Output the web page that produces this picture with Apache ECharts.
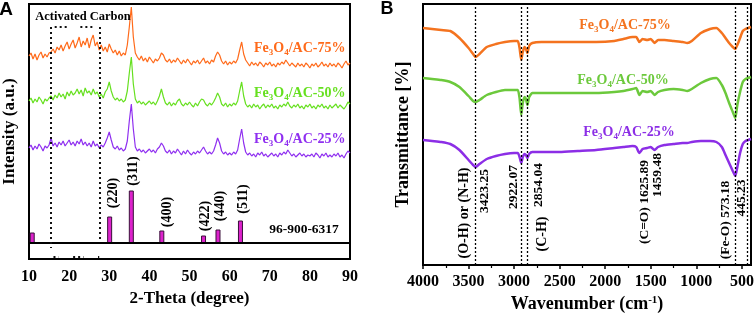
<!DOCTYPE html>
<html lang="en">
<head>
    <meta charset="UTF-8">
    <title>XRD and FTIR</title>
    <script src="https://cdn.jsdelivr.net/npm/echarts@6.0.0/dist/echarts.min.js"></script>
    <style>
        html, body { margin: 0; padding: 0; background: #fff; }
    </style>
</head>
<body>
    <div id="main" style="width: 754px;height:313px;"></div>
    <script type="text/javascript">
        // ---- XRD (panel A), sampled every 0.5 degree from 10 to 90, arbitrary intensity units ----
        const tthStart = 10, tthStep = 0.5;
        const xrd75 = [
            203,206,200,205,199,204,207,201,205,202,  // 10.0-14.5
            206,207,210,206,212,209,214,208,213,217,  // 15.0-19.5
            210,215,219,211,216,222,212,218,214,221,  // 20.0-24.5
            211,219,224,213,217,209,214,208,212,207,  // 25.0-29.5
            215,210,206,209,204,208,203,206,204,214,  // 30.0-34.5
            232,252,222,206,202,199,203,198,201,197,  // 35.0-39.5
            202,199,196,200,198,201,206,204,199,197,  // 40.0-44.5
            200,196,199,197,201,198,195,199,196,200,  // 45.0-49.5
            197,194,198,196,199,195,198,201,196,198,  // 50.0-54.5
            195,199,197,203,207,204,198,195,198,194,  // 55.0-59.5
            197,195,198,196,200,209,217,205,199,196,  // 60.0-64.5
            193,197,194,196,193,197,195,192,196,194,  // 65.0-69.5
            197,193,195,192,196,194,197,195,199,196,  // 70.0-74.5
            193,196,194,192,196,193,195,192,196,194,  // 75.0-79.5
            191,195,193,196,192,194,197,193,195,192,  // 80.0-84.5
            196,193,195,192,196,194,191,195,198,194,  // 85.0-89.5
            196
        ];
        const xrd50 = [
            158,161,156,160,157,162,159,155,160,158,
            161,163,159,164,161,166,162,165,160,167,
            163,168,164,166,170,165,169,163,171,166,
            168,164,170,165,167,162,165,161,167,170,
            177,168,162,159,161,158,160,157,159,168,
            186,202,175,160,156,158,155,157,154,156,
            158,155,157,154,158,163,170,162,156,154,
            157,153,156,154,158,160,155,153,156,154,
            157,154,152,156,153,157,160,159,155,153,
            156,154,157,161,166,162,155,153,156,152,
            155,153,156,154,158,168,177,163,155,152,
            154,151,155,152,154,150,153,155,151,154,
            152,155,151,153,150,154,152,155,153,157,
            153,151,154,152,155,151,153,150,154,152,
            155,151,153,150,154,152,155,151,153,150,
            154,151,153,155,151,154,152,150,153,157,
            155
        ];
        const xrd25 = [
            111,114,109,113,110,115,112,108,113,111,
            114,121,113,116,112,117,114,118,113,116,
            119,114,117,113,118,115,120,114,117,113,
            116,112,118,113,115,111,114,112,116,121,
            127,119,112,110,113,109,111,108,110,118,
            138,155,130,112,108,110,107,109,106,108,
            110,107,109,106,110,112,116,113,108,106,
            109,105,108,106,110,107,104,108,105,109,
            106,104,107,105,108,106,109,112,108,105,
            107,105,108,114,121,116,108,105,107,104,
            106,104,107,105,109,120,130,116,107,104,
            106,103,105,102,106,104,107,103,105,102,
            104,106,103,105,102,106,104,107,105,109,
            106,103,105,102,104,106,103,105,102,104,
            103,105,102,106,104,101,105,103,106,102,
            104,102,105,103,106,102,104,101,105,108,
            106
        ];
        // reference card 96-900-6317
        const refAngles = [10.8, 30.1, 35.5, 43.1, 53.5, 57.1, 62.7];
        const refHeights = [26, 42, 68, 28, 23, 29, 38];
        const refBase = 16;
        const hklLabels = ['(220)', '(311)', '(400)', '(422)', '(440)', '(511)'];
        const tthTicks = [10, 20, 30, 40, 50, 60, 70, 80, 90];

        // ---- FTIR (panel B) ----
        const wavenumbers = [4000,3900,3800,3700,3600,3500,3450,3423,3380,3300,3200,3100,3000,2960,2940,2922,2905,2885,2870,2854,2835,2800,2700,2500,2300,2100,1900,1800,1700,1660,1625,1590,1540,1500,1459,1420,1350,1250,1150,1100,1050,950,850,780,720,680,640,600,573,550,520,490,460,430,400];
        const ftir75 = [237,236,235,234,227,217,211,208,211,218,221,223,224,224,217,205,213,218,216,212,219,222,223,223,223,223,224,226,228,228,223,226,225,226,222,225,225,224,223,222,224,232,236,237,232,227,222,218,216,220,227,234,236,237,238];
        const ftir50 = [187,186,185,183,178,169,164,163,165,170,173,175,175,175,167,150,162,168,166,160,168,172,172,172,172,172,173,174,176,177,170,174,173,174,170,173,175,176,175,174,176,182,186,187,180,172,162,153,147,160,173,183,186,187,188];
        const ftir25 = [125,124,123,121,115,105,100,98,101,106,109,111,112,112,108,102,108,111,110,107,111,113,113,113,114,115,117,118,119,118,112,116,117,118,115,118,120,121,122,122,123,124,124,123,118,110,102,94,89,98,112,121,124,125,126];
        const ftirPeaks = [3423.25, 2922.07, 2854.04, 573.18, 445.23];
        const wnTicks = [4000, 3500, 3000, 2500, 2000, 1500, 1000, 500];
        const wnMinorTicks = [3750, 3250, 2750, 2250, 1750, 1250, 750];

        const serif = '"Liberation Serif", "Times New Roman", serif';
        const colA = { o: '#FF6A1A', g: '#66E01F', p: '#8F2FF0' };
        const colB = { o: '#F4731F', g: '#6CC93C', p: '#8C2EE6' };

        let myChart = echarts.init(document.getElementById('main'));

        function xrdData(arr) {
            return arr.map((v, i) => [tthStart + i * tthStep, v]);
        }
        function ftirData(arr) {
            return arr.map((v, i) => [wavenumbers[i], v]);
        }

        // text helper for graphic labels
        function txt(x, y, text, size, color, rot, align) {
            return {
                type: 'text', x: x, y: y, rotation: rot || 0, silent: true, z: 50,
                style: {
                    text: text, fill: color || '#000',
                    fontSize: size, fontWeight: 'bold', fontFamily: serif,
                    align: align || 'center', verticalAlign: 'middle'
                }
            };
        }
        function feLabel(x, y, pct, color, size, align) {
            const sub = Math.round(size * 0.65);
            return {
                type: 'text', x: x, y: y, silent: true, z: 50,
                style: {
                    text: '{m|Fe}{s|3}{m|O}{s|4}{m|/AC-' + pct + '%}',
                    fill: color, align: align, verticalAlign: 'middle',
                    rich: {
                        m: { fontSize: size, fontWeight: 'bold', fontFamily: serif, fill: color, lineHeight: size + 5, verticalAlign: 'middle' },
                        s: { fontSize: sub, fontWeight: 'bold', fontFamily: serif, fill: color, lineHeight: size + 5, verticalAlign: 'bottom' }
                    }
                }
            };
        }

        const R = Math.PI / 2;
        const axisFont = { fontSize: 16, fontWeight: 'bold', fontFamily: serif, color: '#000', formatter: v => String(v) };
        const dotted = { color: '#111', width: 2, type: [2, 3] };

        let options = {
            animation: false,
            grid: [
                { left: 29, top: 4, right: 404, bottom: 54, show: true, borderColor: '#000', borderWidth: 2, outerBoundsMode: 'none', containLabel: false },
                { left: 423, top: 4, right: 3, bottom: 48, show: true, borderColor: '#000', borderWidth: 2, outerBoundsMode: 'none', containLabel: false }
            ],
            xAxis: [
                {
                    gridIndex: 0, type: 'value', min: 10, max: 90, interval: 10,
                    axisLine: { lineStyle: { color: '#000', width: 2 } },
                    axisTick: { show: false }, splitLine: { show: false },
                    axisLabel: Object.assign({ margin: 10, customValues: tthTicks }, axisFont),
                    name: '2-Theta (degree)', nameLocation: 'middle', nameGap: 29,
                    nameTextStyle: { fontSize: 17, fontWeight: 'bold', fontFamily: serif, color: '#000' }
                },
                {
                    gridIndex: 1, type: 'value', min: 400, max: 4000, inverse: true,
                    axisLine: { lineStyle: { color: '#000', width: 2 } },
                    axisTick: { show: true, inside: false, length: 4, lineStyle: { width: 1.5, color: '#000' }, customValues: wnTicks },
                    splitLine: { show: false },
                    axisLabel: Object.assign({ margin: 9, customValues: wnTicks }, axisFont),
                    name: 'Wavenumber (cm{sup|-1})', nameLocation: 'middle', nameGap: 28,
                    nameTextStyle: {
                        fontSize: 18, fontWeight: 'bold', fontFamily: serif, color: '#000',
                        rich: { sup: { fontSize: 11, fontWeight: 'bold', fontFamily: serif, color: '#000', verticalAlign: 'top' } }
                    }
                },
                {
                    gridIndex: 1, type: 'value', min: 400, max: 4000, inverse: true, position: 'bottom',
                    axisLine: { show: false }, axisLabel: { show: false }, splitLine: { show: false },
                    axisTick: { show: true, length: 3, lineStyle: { width: 1.2, color: '#000' }, customValues: wnMinorTicks }
                }
            ],
            yAxis: [
                {
                    gridIndex: 0, type: 'value', min: 0, max: 255,
                    axisLine: { show: true, lineStyle: { color: '#000', width: 2 } },
                    axisTick: { show: false }, axisLabel: { show: false }, splitLine: { show: false },
                    name: 'Intensity (a.u.)', nameLocation: 'middle', nameGap: 11,
                    nameTextStyle: { fontSize: 17, fontWeight: 'bold', fontFamily: serif, color: '#000' }
                },
                {
                    gridIndex: 1, type: 'value', min: 0, max: 261,
                    axisLine: { show: true, lineStyle: { color: '#000', width: 2 } },
                    axisTick: { show: false }, axisLabel: { show: false }, splitLine: { show: false },
                    name: 'Transmittance [%]', nameLocation: 'middle', nameGap: 11,
                    nameTextStyle: { fontSize: 18, fontWeight: 'bold', fontFamily: serif, color: '#000' }
                }
            ],
            series: [
                // panel A
                { type: 'line', xAxisIndex: 0, yAxisIndex: 0, data: xrdData(xrd75), showSymbol: false, lineStyle: { color: colA.o, width: 1.2 } },
                { type: 'line', xAxisIndex: 0, yAxisIndex: 0, data: xrdData(xrd50), showSymbol: false, lineStyle: { color: colA.g, width: 1.2 } },
                { type: 'line', xAxisIndex: 0, yAxisIndex: 0, data: xrdData(xrd25), showSymbol: false, lineStyle: { color: colA.p, width: 1.2 } },
                {
                    type: 'custom', xAxisIndex: 0, yAxisIndex: 0,
                    data: refAngles.map((a, i) => [a, refHeights[i]]),
                    renderItem: function (params, api) {
                        const p0 = api.coord([api.value(0), refBase]);
                        const p1 = api.coord([api.value(0), api.value(1)]);
                        return {
                            type: 'rect',
                            shape: { x: p0[0] - 2, y: p1[1], width: 4, height: p0[1] - p1[1] },
                            style: { fill: '#DD22CC', stroke: '#3a103a', lineWidth: 1 }
                        };
                    },
                    markLine: {
                        silent: true, symbol: 'none', label: { show: false },
                        lineStyle: { color: '#000', width: 2, type: 'solid' },
                        data: [{ yAxis: refBase }]
                    }
                },
                {
                    // dotted box round the activated carbon hump
                    type: 'line', xAxisIndex: 0, yAxisIndex: 0, data: [],
                    markLine: {
                        silent: true, symbol: 'none', label: { show: false }, lineStyle: dotted,
                        data: [
                            [{ coord: [15.5, 232] }, { coord: [15.5, 11] }],
                            [{ coord: [27.6, 232] }, { coord: [27.6, 17] }],
                            [{ coord: [16.4, 232] }, { coord: [19.6, 232] }],
                            [{ coord: [22.8, 232] }, { coord: [26.1, 232] }],
                            [{ coord: [16.1, 2] }, { coord: [17.4, 2] }],
                            [{ coord: [21.0, 2] }, { coord: [23.6, 2] }],
                            [{ coord: [27.2, 2] }, { coord: [27.5, 2] }]
                        ]
                    }
                },
                // panel B
                { type: 'line', xAxisIndex: 1, yAxisIndex: 1, data: ftirData(ftir75), showSymbol: false, smooth: 0.2, lineStyle: { color: colB.o, width: 2.5 } },
                { type: 'line', xAxisIndex: 1, yAxisIndex: 1, data: ftirData(ftir50), showSymbol: false, smooth: 0.2, lineStyle: { color: colB.g, width: 2.5 } },
                {
                    type: 'line', xAxisIndex: 1, yAxisIndex: 1, data: ftirData(ftir25), showSymbol: false, smooth: 0.2, lineStyle: { color: colB.p, width: 2.5 },
                    markLine: {
                        silent: true, symbol: 'none', label: { show: false },
                        lineStyle: { color: '#000', width: 1.3, type: [2, 2] },
                        data: ftirPeaks.map(p => ({ xAxis: p }))
                    }
                }
            ],
            graphic: [
                { type: 'text', x: 6, y: 10, silent: true, style: { text: 'A', fontSize: 19, fontWeight: 'bold', fontFamily: '"Liberation Sans", Arial, sans-serif', fill: '#000', align: 'center', verticalAlign: 'middle' } },
                { type: 'text', x: 387, y: 9, silent: true, style: { text: 'B', fontSize: 18, fontWeight: 'bold', fontFamily: '"Liberation Sans", Arial, sans-serif', fill: '#000', align: 'center', verticalAlign: 'middle' } },
                txt(83, 17, 'Activated Carbon', 12.5),
                txt(304, 230, '96-900-6317', 13.5),
                txt(113, 193, hklLabels[0], 14, '#000', R),
                txt(133, 171, hklLabels[1], 14, '#000', R),
                txt(167, 212, hklLabels[2], 14, '#000', R),
                txt(205, 216, hklLabels[3], 14, '#000', R),
                txt(220, 206, hklLabels[4], 14, '#000', R),
                txt(243, 199, hklLabels[5], 14, '#000', R),
                feLabel(254, 48, 75, colA.o, 14, 'left'),
                feLabel(254, 93, 50, colA.g, 14, 'left'),
                feLabel(254, 139, 25, colA.p, 14, 'left'),
                feLabel(625, 25, 75, colB.o, 14, 'center'),
                feLabel(623, 80, 50, colB.g, 14, 'center'),
                feLabel(629, 132, 25, colB.p, 14, 'center'),
                txt(464, 213, '(O-H) or (N-H)', 14, '#000', R),
                txt(485, 191, '3423.25', 13.5, '#000', R),
                txt(514, 187, '2922.07', 13.5, '#000', R),
                txt(539, 185, '2854.04', 13.5, '#000', R),
                txt(542, 234, '(C-H)', 14, '#000', R),
                txt(645, 202, '(C=O) 1625.89', 13.5, '#000', R),
                txt(658, 175, '1459.48', 13.5, '#000', R),
                txt(726, 220, '(Fe-O) 573.18', 13.5, '#000', R),
                txt(742, 198, '445.23', 13.5, '#000', R)
            ]
        };

        myChart.setOption(options);
    </script>
</body>
</html>
